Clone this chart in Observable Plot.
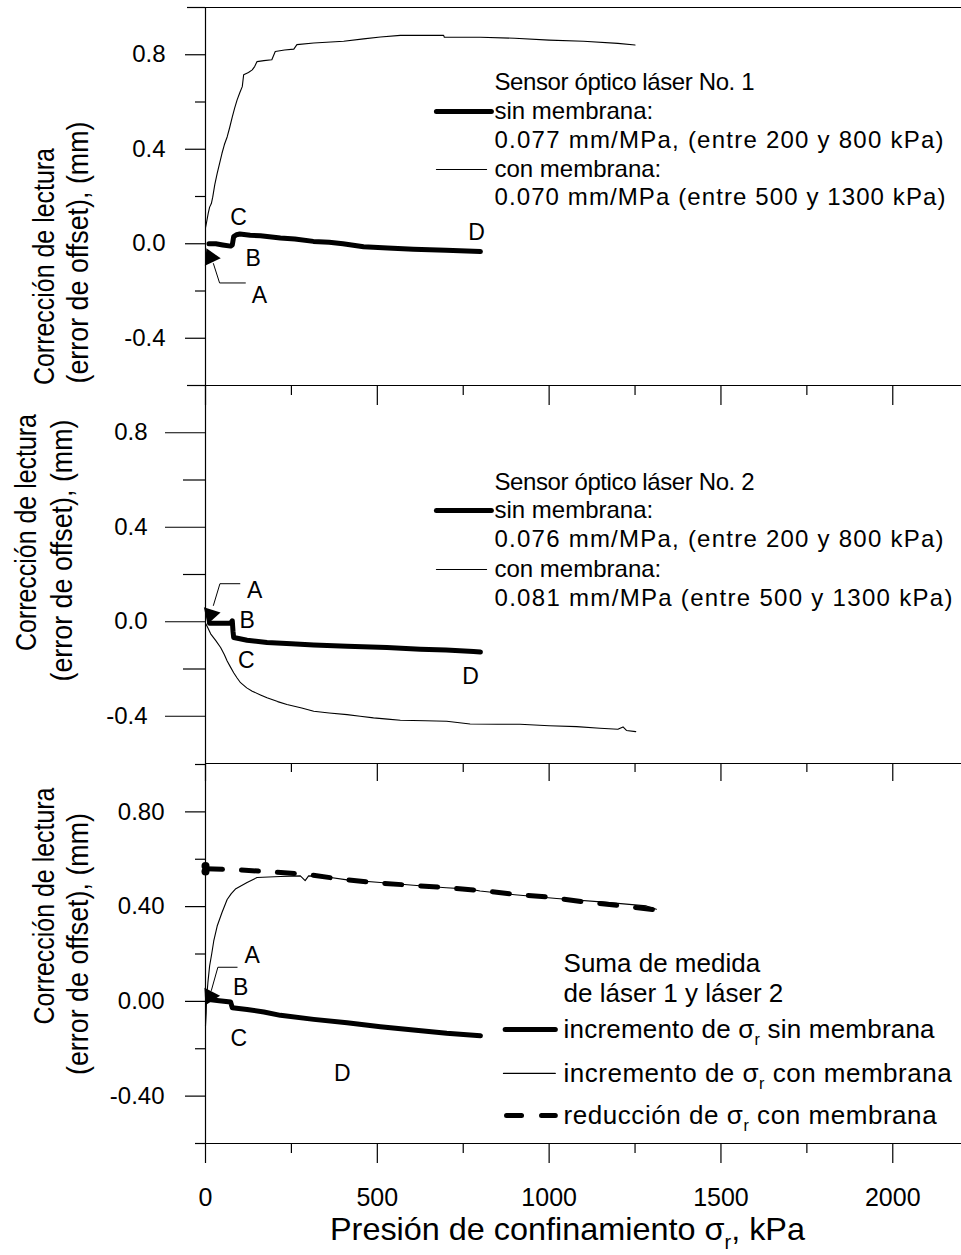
<!DOCTYPE html>
<html><head><meta charset="utf-8">
<script src="https://cdn.jsdelivr.net/npm/d3@7"></script>
<script src="https://cdn.jsdelivr.net/npm/@observablehq/plot@0.6"></script>
<style>
html,body{margin:0;padding:0;background:#fff;}
#chart{position:relative;width:961px;height:1255px;overflow:hidden;background:#fff;}
#chart svg{position:absolute;left:0;top:0;}
</style></head><body><div id="chart"></div>
<script>
// ---------- data (x: kPa, y: mm) ----------
const xMajorTicks = [0, 500, 1000, 1500, 2000];
const xMinorTicks = [250, 750, 1250, 1750];
const yMajorTicks = [-0.4, 0, 0.4, 0.8];
const yMinorTicks = [-0.2, 0.2, 0.6];
const yEdgeTicks = [-0.6, 1.0];

// Panel 1: laser No. 1
const l1Con = [[0,0.068],[3,0.09],[8,0.13],[12,0.155],[17,0.17],[21,0.197],[27,0.25],[34,0.298],[41,0.34],[48,0.383],[55,0.42],[63,0.452],[70,0.49],[78,0.537],[85,0.575],[92,0.609],[100,0.64],[107,0.665],[111,0.715],[125,0.725],[136,0.736],[143,0.75],[150,0.771],[170,0.775],[193,0.779],[203,0.814],[230,0.82],[257,0.824],[266,0.843],[315,0.85],[402,0.857],[460,0.867],[509,0.875],[567,0.882],[693,0.882],[695,0.874],[800,0.874],[900,0.87],[1000,0.862],[1100,0.857],[1200,0.848],[1250,0.841]];
const l1Sin = [[10,0.0],[30,0.0],[50,-0.005],[73,-0.01],[78,-0.005],[82,0.03],[90,0.038],[100,0.041],[130,0.036],[160,0.034],[218,0.024],[260,0.02],[314,0.01],[360,0.006],[400,0.0],[460,-0.013],[530,-0.018],[605,-0.023],[700,-0.028],[760,-0.031],[800,-0.033]];

// Panel 2: laser No. 2
const l2Con = [[0,-0.006],[5,-0.02],[15,-0.051],[30,-0.08],[44,-0.109],[55,-0.14],[63,-0.166],[72,-0.19],[82,-0.216],[92,-0.238],[102,-0.258],[120,-0.28],[136,-0.294],[160,-0.31],[179,-0.322],[210,-0.338],[237,-0.35],[280,-0.365],[315,-0.379],[360,-0.386],[412,-0.393],[450,-0.4],[489,-0.407],[530,-0.412],[567,-0.417],[640,-0.419],[702,-0.421],[770,-0.433],[850,-0.434],[915,-0.434],[1000,-0.44],[1080,-0.444],[1148,-0.451],[1200,-0.455],[1215,-0.445],[1225,-0.46],[1252,-0.465]];
const l2Sin = [[12,-0.006],[40,-0.006],[73,-0.006],[78,0.004],[80,-0.04],[82,-0.067],[100,-0.072],[121,-0.078],[179,-0.088],[250,-0.093],[315,-0.098],[412,-0.104],[528,-0.109],[625,-0.116],[700,-0.12],[780,-0.126],[800,-0.128]];

// Panel 3: sum of laser 1 and laser 2
const sumIncCon = [[0,-0.104],[2,-0.05],[3,0.008],[7,0.08],[12,0.15],[18,0.2],[24,0.255],[34,0.318],[48,0.375],[63,0.43],[75,0.455],[87,0.474],[121,0.502],[150,0.523],[218,0.527],[276,0.53],[290,0.51],[300,0.53],[344,0.527],[412,0.513],[509,0.502],[605,0.49],[700,0.48],[770,0.474],[799,0.466],[900,0.45],[1022,0.434],[1150,0.42],[1283,0.403],[1312,0.389]];
const sumIncSin = [[10,0.008],[40,0.003],[73,-0.003],[78,-0.027],[121,-0.034],[170,-0.045],[218,-0.059],[315,-0.076],[412,-0.09],[509,-0.107],[605,-0.121],[702,-0.135],[790,-0.144],[800,-0.145]];
const sumRedCon = [[0,0.56],[100,0.555],[200,0.546],[300,0.535],[400,0.515],[500,0.5],[600,0.49],[700,0.48],[800,0.468],[900,0.452],[1000,0.44],[1100,0.42],[1200,0.405],[1316,0.385]];
const sumRedStart = [[0,0.572],[0,0.548]];

// annotation letters [x, y, label]
const p1Letters = [[96,0.11,"C"],[139,-0.064,"B"],[157,-0.219,"A"],[789,0.047,"D"]];
const p2Letters = [[143,0.132,"A"],[121,0.005,"B"],[119,-0.164,"C"],[771,-0.232,"D"]];
const p3Letters = [[136,0.194,"A"],[102,0.06,"B"],[97,-0.157,"C"],[398,-0.304,"D"]];
const p1Leader = [[116,-0.166],[41,-0.166],[23,-0.084]];
const p2Leader = [[100,0.161],[42,0.161],[23,0.069]];
const p3Leader = [[92,0.144],[36,0.144],[17,0.046]];
const p1Head = [[15,-0.058]];
const p2Head = [[15,0.03]];
const p3Head = [[13,0.022]];

// legend texts
const p1Legend = ["Sensor óptico láser No. 1","sin membrana:","0.077 mm/MPa, (entre 200 y 800 kPa)","con membrana:","0.070 mm/MPa (entre 500 y 1300 kPa)"];
const p2Legend = ["Sensor óptico láser No. 2","sin membrana:","0.076 mm/MPa, (entre 200 y 800 kPa)","con membrana:","0.081 mm/MPa (entre 500 y 1300 kPa)"];
const p3Legend = ["Suma de medida","de láser 1 y láser 2","incremento de σ_r sin membrana","incremento de σ_r con membrana","reducción de σ_r con membrana"];
const yLabelLines = ["Corrección de lectura","(error de offset), (mm)"];
const xLabel = "Presión de confinamiento σ_r, kPa";

// ---------- drawing ----------
const W = 961, H = 1255;
const FONT = "'Liberation Sans', Arial, sans-serif";
const X = d => d[0], Y = d => d[1];

function thin(data){ return Plot.line(data,{x:X,y:Y,stroke:"black",strokeWidth:1.1,strokeLinejoin:"round"}); }
function thick(data){ return Plot.line(data,{x:X,y:Y,stroke:"black",strokeWidth:5,strokeLinejoin:"round",strokeLinecap:"round"}); }

function frame(p){
  return [
    Plot.ruleX([0],{stroke:"black",strokeWidth:1.2}),
    Plot.ruleY([-0.6],{stroke:"black",strokeWidth:1.2}),
    p.top ? Plot.ruleY([1.0],{stroke:"black",strokeWidth:1.2}) : null,
    Plot.axisY({ticks:yMajorTicks,tickSize:p.ym,tickPadding:p.ypad,tickFormat:d=>d.toFixed(p.dec),fontSize:24,label:null,strokeWidth:1.2}),
    Plot.axisY({ticks:yMinorTicks,tickSize:p.yn,tickFormat:()=>"",label:null,strokeWidth:1.2}),
    Plot.axisY({ticks:yEdgeTicks,tickSize:p.ye,tickFormat:()=>"",label:null,strokeWidth:1.2}),
    Plot.axisX({ticks:xMajorTicks,tickSize:p.xm,tickPadding:25,tickFormat:p.xlab?(d=>String(d)):(()=>""),fontSize:25,label:null,strokeWidth:1.2}),
    Plot.axisX({ticks:xMinorTicks,tickSize:p.xn,tickFormat:()=>"",label:null,strokeWidth:1.2})
  ];
}
function ylabel(p){
  return [
    Plot.text([yLabelLines[0]],{text:d=>d,frameAnchor:"left",rotate:-90,dx:p.l1[0],dy:p.l1[1],fontSize:29,textAnchor:"middle",lineAnchor:"middle"}),
    Plot.text([yLabelLines[1]],{text:d=>d,frameAnchor:"left",rotate:-90,dx:p.l2[0],dy:p.l2[1],fontSize:29,textAnchor:"middle",lineAnchor:"middle"})
  ];
}
function letters(data, leader, head, rot){
  return [
    Plot.text(data,{x:d=>d[0],y:d=>d[1],text:d=>d[2],fontSize:23,textAnchor:"middle",lineAnchor:"middle"}),
    Plot.line(leader,{x:X,y:Y,stroke:"black",strokeWidth:1}),
    Plot.dot(head,{x:X,y:Y,symbol:"triangle",r:6.5,fill:"black",stroke:"none",rotate:rot})
  ];
}
function legendText(lines, xs, ys, size){
  return Plot.text(lines.map((t,i)=>({t,x:xs,y:ys[i]})),{x:"x",y:"y",text:"t",textAnchor:"start",lineAnchor:"middle",fontSize:size});
}
function makePlot(top, bottom, marks){
  return Plot.plot({
    width:W,height:H,marginLeft:205,marginRight:0,marginTop:top,marginBottom:H-bottom,
    x:{domain:[0,2200]},y:{domain:[-0.6,1.0]},
    style:{background:"transparent",overflow:"visible",fontFamily:FONT,color:"black"},
    marks
  });
}

const chart = document.getElementById("chart");

// Panel 1
const leg1Y = [0.683,0.560,0.437,0.314,0.196];
chart.appendChild(makePlot(7, 385, [
  ...frame({top:true,ym:20,yn:10,ye:18,ypad:20,dec:1,xm:20,xn:10,xlab:false}),
  ...ylabel({l1:[-161,70],l2:[-127,56]}),
  thin(l1Con), thick(l1Sin),
  ...letters(p1Letters,p1Leader,p1Head,-25),
  legendText(p1Legend,841,leg1Y,24),
  thick([[672,leg1Y[1]],[832,leg1Y[1]]]),
  thin([[672,leg1Y[3]],[818,leg1Y[3]]])
]));

// Panel 2
const leg2Y = [0.589,0.471,0.348,0.221,0.098];
chart.appendChild(makePlot(385, 763, [
  ...frame({top:false,ym:40,yn:22,ye:0,ypad:18,dec:1,xm:18,xn:9,xlab:false}),
  ...ylabel({l1:[-179,-42],l2:[-143,-24]}),
  thin(l2Con), thick(l2Sin),
  ...letters(p2Letters,p2Leader,p2Head,198),
  legendText(p2Legend,841,leg2Y,24),
  thick([[672,leg2Y[1]],[832,leg2Y[1]]]),
  thin([[672,leg2Y[3]],[818,leg2Y[3]]])
]));

// Panel 3
const leg3Y = [0.161,0.033,-0.119,-0.304,-0.482];
chart.appendChild(makePlot(764, 1143, [
  ...frame({top:false,ym:20,yn:10,ye:10,ypad:21,dec:2,xm:20,xn:10,xlab:true}),
  ...ylabel({l1:[-161,-48],l2:[-127,-10]}),
  thin(sumIncCon), thick(sumIncSin),
  Plot.line(sumRedCon,{x:X,y:Y,stroke:"black",strokeWidth:5,strokeDasharray:"17,19",strokeLinecap:"round"}),
  Plot.dot(sumRedStart,{x:X,y:Y,r:4,fill:"black"}),
  ...letters(p3Letters,p3Leader,p3Head,207),
  legendText(p3Legend,1042,leg3Y,26),
  thick([[872,leg3Y[2]],[1018,leg3Y[2]]]),
  thin([[867,leg3Y[3]],[1018,leg3Y[3]]]),
  Plot.line([[876,leg3Y[4]],[1018,leg3Y[4]]],{x:X,y:Y,stroke:"black",strokeWidth:5,strokeDasharray:"15,20",strokeLinecap:"round"}),
  Plot.text([xLabel],{text:d=>d,frameAnchor:"bottom",dx:-16,dy:86,fontSize:32,textAnchor:"middle",lineAnchor:"middle"})
]));

// text fitting to the reference's condensed / spaced type
const fitLength = {
  "Corrección de lectura": [237, "spacingAndGlyphs"],
  "(error de offset), (mm)": [262, "spacingAndGlyphs"],
  "0.077 mm/MPa, (entre 200 y 800 kPa)": [449, "spacing"],
  "0.070 mm/MPa (entre 500 y 1300 kPa)": [451, "spacing"],
  "0.076 mm/MPa, (entre 200 y 800 kPa)": [449, "spacing"],
  "0.081 mm/MPa (entre 500 y 1300 kPa)": [458, "spacing"],
  "Sensor óptico láser No. 1": [260, "spacing"],
  "Sensor óptico láser No. 2": [260, "spacing"],
  "Presión de confinamiento σ_r, kPa": [475, "spacingAndGlyphs"]
};
const spacing = {
  "incremento de σ_r sin membrana": "0.2px",
  "incremento de σ_r con membrana": "0.5px",
  "reducción de σ_r con membrana": "0.55px"
};
d3.select(chart).selectAll("text").each(function(){
  const s = this.textContent;
  if (fitLength[s]) { this.setAttribute("textLength", fitLength[s][0]); this.setAttribute("lengthAdjust", fitLength[s][1]); }
  if (spacing[s]) this.style.letterSpacing = spacing[s];
});

// subscript r after sigma
d3.select(chart).selectAll("text").each(function(){
  const s = this.textContent;
  if (!s.includes("σ_r")) return;
  const fs = parseFloat(getComputedStyle(this).fontSize) || 24;
  const parts = s.split("σ_r");
  while (this.firstChild) this.removeChild(this.firstChild);
  const ns = "http://www.w3.org/2000/svg";
  parts.forEach((p,i)=>{
    if (i === 0) { this.appendChild(document.createTextNode(p + "σ")); return; }
    const sub = document.createElementNS(ns,"tspan");
    sub.setAttribute("dy", (0.28*fs).toFixed(1));
    sub.setAttribute("font-size", (0.62*fs).toFixed(1));
    sub.textContent = "r";
    this.appendChild(sub);
    const rest = document.createElementNS(ns,"tspan");
    rest.setAttribute("dy", (-0.28*fs).toFixed(1));
    rest.textContent = p;
    this.appendChild(rest);
  });
});
</script></body></html>
